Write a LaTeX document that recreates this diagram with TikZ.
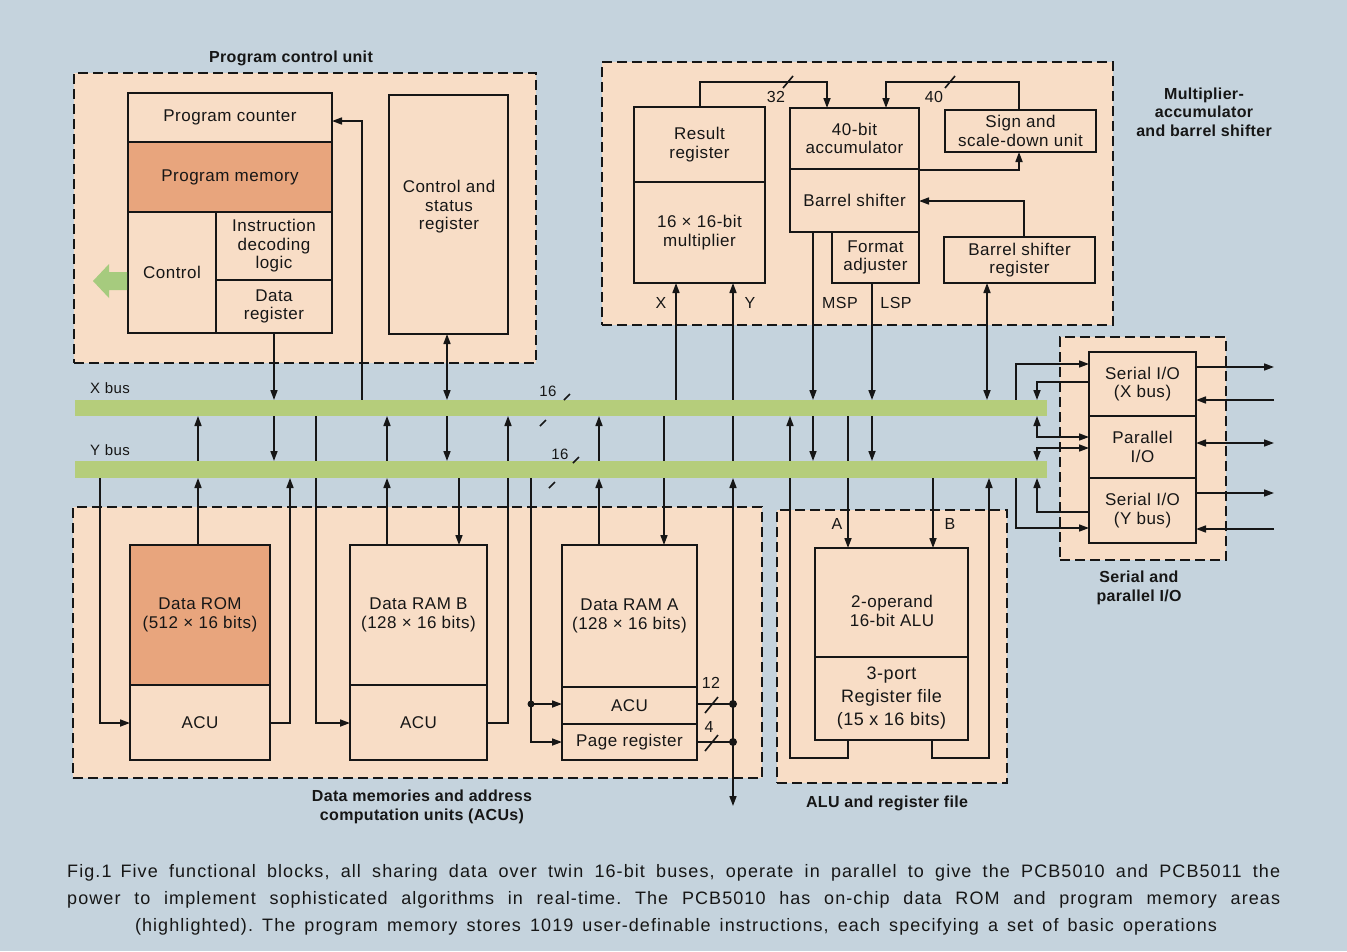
\documentclass[tikz,border=0pt]{standalone}
\usepackage{fontspec}
\setmainfont{Liberation Sans}[LetterSpace=3]
\newfontfamily\capfont{Liberation Sans}[LetterSpace=6]
\newfontfamily\ttlfont{Liberation Sans}[LetterSpace=2]
\usetikzlibrary{arrows.meta}
\definecolor{bg}{HTML}{C5D3DD}
\definecolor{peach}{HTML}{F8DDC6}
\definecolor{hilite}{HTML}{E8A57D}
\definecolor{busgreen}{HTML}{B5CD7B}
\definecolor{arrowgreen}{HTML}{A6CB7E}
\definecolor{ink}{HTML}{161616}
\newcommand\blk[7][]{\node[box,#1,minimum width={#5pt-#3pt},minimum height={#6pt-#4pt},anchor=north west] (#2) at (#3,#4) {#7};}
\frenchspacing
\begin{document}
\begin{tikzpicture}[x=1pt,y=-1pt,
 box/.style={draw=ink,line width=2.2pt,fill=peach,inner sep=0pt,outer sep=0pt,align=center,text=ink,font=\fontsize{17}{18.5}\selectfont},
 hl/.style={fill=hilite},
 grp/.style={draw=ink,line width=1.8pt,dash pattern=on 10pt off 5pt,fill=peach},
 wire/.style={draw=ink,line width=1.6pt},
 arr/.style={wire,-{Triangle[length=10pt,width=7pt]}},
 arrb/.style={wire,{Triangle[length=10pt,width=7pt]}-{Triangle[length=10pt,width=7pt]}},
 bus/.style={fill=busgreen,inner sep=0pt,outer sep=0pt},
 lbl/.style={text=ink,font=\fontsize{16}{18}\selectfont,inner sep=0pt,align=center},
 ttl/.style={text=ink,font=\ttlfont\bfseries\fontsize{16}{18.5}\selectfont,align=center,inner sep=0pt},
 tick/.style={draw=ink,line width=1.6pt},
 captext/.style={text=ink,font=\capfont\fontsize{18}{20}\selectfont,inner sep=0pt},
]
\fill[bg] (0,0) rectangle (1347,951);
\useasboundingbox (0,0) rectangle (1347,951);

% ---------- groups ----------
\blk[grp]{pcu}{74}{73}{536}{363}{}
\blk[grp]{mac}{602}{62}{1113}{325}{}
\blk[grp]{mem}{73}{507}{762}{778}{}
\blk[grp]{alug}{777}{510}{1007}{783}{}
\blk[grp]{iog}{1060}{337}{1226}{560}{}

% ---------- wires above X bus ----------
\draw[arr] (274,333) -- (274,400);
\draw[arr] (362,400) -- (362,121) -- (332,121);
\draw[arrb] (447,334) -- (447,400);
\draw[arr] (676,400) -- (676,283);
\draw[arr] (733,461) -- (733,283);
\draw[arr] (813,232) -- (813,400);
\draw[arr] (872,283) -- (872,400);
\draw[arrb] (987,283) -- (987,400);
\draw[arr] (1016,400) -- (1016,364) -- (1089,364);
\draw[arr] (1089,382) -- (1037,382) -- (1037,400);

% ---------- wires between buses ----------
\draw[arr] (198,461) -- (198,416);
\draw[arr] (274,416) -- (274,461);
\draw[arr] (316,416) -- (316,723) -- (350,723);
\draw[arr] (387,461) -- (387,416);
\draw[arr] (447,416) -- (447,461);
\draw[arr] (487,723) -- (508,723) -- (508,416);
\draw[arr] (599,461) -- (599,416);
\draw[arr] (664,416) -- (664,545);
\draw[arr] (848,740) -- (848,758) -- (790,758) -- (790,416);
\draw[arr] (813,416) -- (813,461);
\draw[arr] (872,416) -- (872,461);
\draw[arr] (848,416) -- (848,548);
\draw[arrb] (1089,437) -- (1037,437) -- (1037,416);
\draw[arrb] (1089,448) -- (1037,448) -- (1037,461);

% ---------- wires below Y bus ----------
\draw[arr] (100,478) -- (100,723) -- (130,723);
\draw[arr] (198,545) -- (198,478);
\draw[arr] (270,723) -- (290,723) -- (290,478);
\draw[arr] (387,545) -- (387,478);
\draw[arr] (459,478) -- (459,545);
\draw[arr] (531,478) -- (531,742) -- (562,742);
\draw[arr] (531,704) -- (562,704);
\fill[ink] (531,704) circle (3.5);
\draw[arr] (599,545) -- (599,478);
\draw[arrb] (733,478) -- (733,806);
\draw[wire] (697,704) -- (733,704);
\draw[wire] (697,742) -- (733,742);
\fill[ink] (733,704) circle (4);
\fill[ink] (733,742) circle (4);
\draw[tick] (705,713) -- (718,697);
\draw[tick] (705,751) -- (718,735);
\draw[arr] (933,478) -- (933,548);
\draw[arr] (932,740) -- (932,758) -- (989,758) -- (989,478);
\draw[arr] (1016,478) -- (1016,528) -- (1089,528);
\draw[arr] (1089,512) -- (1037,512) -- (1037,478);

% ---------- buses ----------
\node[bus,minimum width=972pt,minimum height=16pt,anchor=north west] (xbus) at (75,400) {};
\node[bus,minimum width=972pt,minimum height=17pt,anchor=north west] (ybus) at (75,461) {};
\node[lbl,font=\fontsize{15}{17}\selectfont] at (110,388) {X bus};
\node[lbl,font=\fontsize{15}{17}\selectfont] at (110,450) {Y bus};
\node[lbl,font=\fontsize{15}{17}\selectfont] at (548,391) {16};
\node[lbl,font=\fontsize{15}{17}\selectfont] at (560,454) {16};
\draw[tick] (564,400) -- (570,394);
\draw[tick] (540,426) -- (546,420);
\draw[tick] (573,463) -- (579,457);
\draw[tick] (549,488) -- (555,482);

% ---------- program control unit ----------
\blk{pc}{128}{93}{332}{142}{Program counter}
\blk[hl]{pm}{128}{142}{332}{212}{Program memory}
\blk{ctl}{128}{212}{216}{333}{Control}
\blk{idl}{216}{212}{332}{280}{Instruction\\decoding\\logic}
\blk{dreg}{216}{280}{332}{333}{Data\\register}
\blk{csr}{389}{95}{508}{334}{}
\node[lbl,font=\fontsize{17}{18.5}\selectfont] at (449,207) {Control and\\status\\register};
\fill[arrowgreen] (93,281) -- (109,264) -- (109,272) -- (127,272) -- (127,290) -- (109,290) -- (109,298) -- cycle;

% ---------- multiplier-accumulator ----------
\draw[arr] (700,107) -- (700,82) -- (827,82) -- (827,108);
\draw[arr] (1019,110) -- (1019,82) -- (886,82) -- (886,108);
\draw[arr] (919,170) -- (1019,170) -- (1019,152);
\draw[arr] (1024,237) -- (1024,201) -- (919,201);
\draw[tick] (783,88) -- (793,76);
\draw[tick] (945,88) -- (955,76);
\node[lbl] at (776,97) {32};
\node[lbl] at (934,97) {40};
\blk{rr}{634}{107}{765}{182}{Result\\register}
\blk{mul}{634}{182}{765}{283}{16 × 16-bit\\multiplier}
\blk{acc}{790}{108}{919}{169}{40-bit\\accumulator}
\blk{bsh}{790}{169}{919}{232}{Barrel shifter}
\blk{fmt}{832}{232}{919}{283}{Format\\adjuster}
\blk{sgn}{945}{110}{1096}{152}{Sign and\\scale-down unit}
\blk{bsr}{944}{237}{1095}{283}{Barrel shifter\\register}
\node[lbl] at (661,303) {X};
\node[lbl] at (750,303) {Y};
\node[lbl] at (840,303) {MSP};
\node[lbl] at (896,303) {LSP};

% ---------- data memories ----------
\blk[hl]{rom}{130}{545}{270}{685}{Data ROM\\(512 × 16 bits)}
\blk{racu}{130}{685}{270}{760}{ACU}
\blk{ramb}{350}{545}{487}{685}{Data RAM B\\(128 × 16 bits)}
\blk{bacu}{350}{685}{487}{760}{ACU}
\blk{rama}{562}{545}{697}{687}{Data RAM A\\(128 × 16 bits)}
\blk{aacu}{562}{687}{697}{724}{ACU}
\blk{page}{562}{724}{697}{760}{Page register}
\node[lbl] at (711,683) {12};
\node[lbl] at (709,727) {4};

% ---------- ALU ----------
\blk{alu}{815}{548}{968}{657}{}
\node[lbl,font=\fontsize{17}{19}\selectfont] at (892,611) {2-operand\\16-bit ALU};
\blk[font=\fontsize{18}{23}\selectfont]{rf}{815}{657}{968}{740}{3-port\\Register file\\(15 x 16 bits)}
\node[lbl] at (837,524) {A};
\node[lbl] at (950,524) {B};

% ---------- serial / parallel I/O ----------
\blk{sx}{1089}{352}{1196}{416}{Serial I/O\\(X bus)}
\blk{pio}{1089}{416}{1196}{478}{Parallel\\I/O}
\blk{sy}{1089}{478}{1196}{543}{Serial I/O\\(Y bus)}
\draw[arr] (1196,367) -- (1274,367);
\draw[arr] (1274,400) -- (1196,400);
\draw[arrb] (1196,443) -- (1274,443);
\draw[arr] (1196,493) -- (1274,493);
\draw[arr] (1274,529) -- (1196,529);

% ---------- titles ----------
\node[ttl] at (291,58) {Program control unit};
\node[ttl] at (1204,112) {Multiplier-\\accumulator\\and barrel shifter};
\node[ttl] at (422,807) {Data memories and address\\computation units (ACUs)};
\node[ttl] at (887,803) {ALU and register file};
\node[ttl] at (1139,588) {Serial and\\parallel I/O};

% ---------- caption ----------
\node[captext,anchor=west] at (67,873) {\makebox[1213pt][s]{Fig.1\enspace Five functional blocks, all sharing data over twin 16-bit buses, operate in parallel to give the PCB5010 and PCB5011 the}};
\node[captext,anchor=west] at (67,900) {\makebox[1213pt][s]{power to implement sophisticated algorithms in real-time. The PCB5010 has on-chip data ROM and program memory areas}};
\node[captext] at (676,927) {\makebox[1082pt][s]{(highlighted). The program memory stores 1019 user-definable instructions, each specifying a set of basic operations}};
\end{tikzpicture}
\end{document}
